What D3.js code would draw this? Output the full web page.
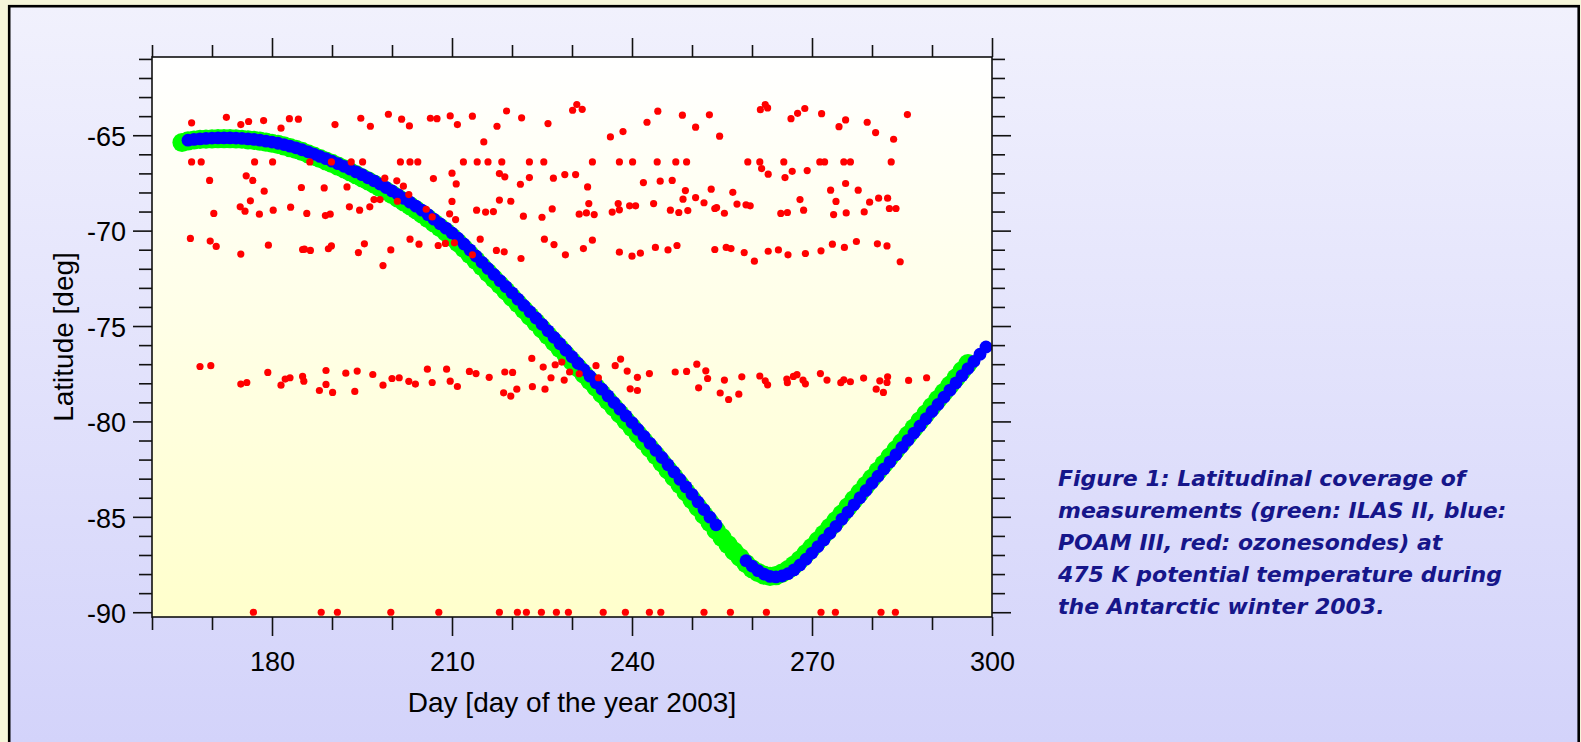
<!DOCTYPE html>
<html>
<head>
<meta charset="utf-8">
<script src="https://cdn.jsdelivr.net/npm/d3@7"></script>
<style>
  body { margin: 0; background: #f6f6da; }
  svg { display: block; }
</style>
</head>
<body>
<div id="chart-area"></div>
<script>
/*
*    Latitudinal coverage of ILAS II / POAM III / ozonesondes, 475 K, 2003
*/

// x axis ticks (day of year) and y axis ticks (latitude)
var xMajor = [180, 210, 240, 270, 300];
var xMinor = [160, 170, 190, 200, 220, 230, 250, 260, 280, 290];
var yMajor = [-90, -85, -80, -75, -70, -65];
var yMinor = [-89, -88, -87, -86, -84, -83, -82, -81, -79, -78, -77, -76,
              -74, -73, -72, -71, -69, -68, -67, -66, -64, -63, -62, -61];

// ILAS II (green) [day, latitude]
var ilas = [
  [165,-65.38],[166,-65.30],[167,-65.25],[168,-65.22],[169,-65.20],[170,-65.19],[171,-65.18],[172,-65.18],
  [173,-65.18],[174,-65.19],[175,-65.21],[176,-65.24],[177,-65.27],[178,-65.31],[179,-65.36],[180,-65.42],
  [181,-65.48],[182,-65.56],[183,-65.65],[184,-65.74],[185,-65.85],[186,-65.97],[187,-66.10],[188,-66.22],
  [189,-66.35],[190,-66.48],[191,-66.62],[192,-66.76],[193,-66.91],[194,-67.07],[195,-67.23],[196,-67.39],
  [197,-67.56],[198,-67.74],[199,-67.92],[200,-68.11],[201,-68.30],[202,-68.50],[203,-68.70],[204,-68.91],
  [205,-69.13],[206,-69.36],[207,-69.60],[208,-69.84],[209,-70.08],[210,-70.34],[211,-70.63],[212,-70.94],
  [213,-71.25],[214,-71.56],[215,-71.88],[216,-72.20],[217,-72.52],[218,-72.84],[219,-73.16],[220,-73.49],
  [221,-73.82],[222,-74.15],[223,-74.48],[224,-74.81],[225,-75.15],[226,-75.49],[227,-75.83],[228,-76.17],
  [229,-76.51],[230,-76.85],[231,-77.19],[232,-77.53],[233,-77.87],[234,-78.21],[235,-78.56],[236,-78.91],
  [237,-79.26],[238,-79.61],[239,-79.96],[240,-80.31],[241,-80.67],[242,-81.04],[243,-81.41],[244,-81.78],
  [245,-82.16],[246,-82.54],[247,-82.92],[248,-83.31],[249,-83.70],[250,-84.10],[251,-84.50],[252,-84.90],
  [253,-85.30],[254,-85.70],[255,-86.08],[256,-86.45],[257,-86.80],[258,-87.12],[259,-87.45],[260,-87.72],
  [261,-87.92],[262,-88.06],[263,-88.12],[264,-88.08],[265,-87.95],[266,-87.77],[267,-87.53],[268,-87.25],
  [269,-86.93],[270,-86.60],[271,-86.25],[272,-85.90],[273,-85.55],[274,-85.20],[275,-84.85],[276,-84.48],
  [277,-84.10],[278,-83.73],[279,-83.35],[280,-82.98],[281,-82.60],[282,-82.23],[283,-81.85],[284,-81.48],
  [285,-81.10],[286,-80.72],[287,-80.35],[288,-79.97],[289,-79.60],[290,-79.22],[291,-78.84],[292,-78.47],
  [293,-78.10],[294,-77.72],[295,-77.34],[296,-76.97]
];

// POAM III (blue) [day, latitude]
var poam = [
  [166,-65.26],[167,-65.22],[168,-65.19],[169,-65.17],[170,-65.15],[171,-65.14],[172,-65.14],[173,-65.14],
  [174,-65.15],[175,-65.17],[176,-65.19],[177,-65.22],[178,-65.26],[179,-65.31],[180,-65.36],[181,-65.42],
  [182,-65.49],[183,-65.57],[184,-65.66],[185,-65.76],[186,-65.87],[187,-65.99],[188,-66.11],[189,-66.23],
  [190,-66.36],[191,-66.49],[192,-66.63],[193,-66.77],[194,-66.92],[195,-67.07],[196,-67.23],[197,-67.39],
  [198,-67.56],[199,-67.74],[200,-67.92],[201,-68.11],[202,-68.31],[203,-68.51],[204,-68.72],[205,-68.93],
  [206,-69.16],[207,-69.40],[208,-69.64],[209,-69.87],[210,-70.12],[211,-70.40],[212,-70.70],[213,-71.01],
  [214,-71.33],[215,-71.66],[216,-71.98],[217,-72.30],[218,-72.62],[219,-72.94],[220,-73.26],[221,-73.59],
  [222,-73.92],[223,-74.25],[224,-74.58],[225,-74.91],[226,-75.25],[227,-75.59],[228,-75.93],[229,-76.27],
  [230,-76.61],[231,-76.95],[232,-77.29],[233,-77.63],[234,-77.97],[235,-78.31],[236,-78.66],[237,-79.01],
  [238,-79.36],[239,-79.71],[240,-80.06],[241,-80.42],[242,-80.78],[243,-81.15],[244,-81.52],[245,-81.89],
  [246,-82.27],[247,-82.65],[248,-83.04],[249,-83.43],[250,-83.82],[251,-84.22],[252,-84.62],[253,-85.02],
  [254,-85.42],
  [259,-87.30],[260,-87.58],[261,-87.82],[262,-88.00],[263,-88.12],[264,-88.15],[265,-88.10],[266,-87.98],
  [267,-87.78],[268,-87.52],[269,-87.22],[270,-86.90],[271,-86.56],[272,-86.21],[273,-85.86],[274,-85.50],
  [275,-85.12],[276,-84.75],[277,-84.37],[278,-84.00],[279,-83.62],[280,-83.24],[281,-82.87],[282,-82.49],
  [283,-82.12],[284,-81.74],[285,-81.36],[286,-80.99],[287,-80.61],[288,-80.24],[289,-79.86],[290,-79.48],
  [291,-79.11],[292,-78.73],[293,-78.36],[294,-77.98],[295,-77.60],[296,-77.23],[297,-76.85],[298,-76.48],
  [299,-76.10]
];

// ozonesondes (red) [day, latitude]
var sondesUpper = [
  [166.6,-64.35],[172.4,-64.06],[174.8,-64.44],[176.1,-64.28],[178.6,-64.23],[181.5,-64.63],[182.9,-64.13],
  [184.4,-64.16],[190.5,-64.44],[194.8,-64.11],[196.4,-64.53],[199.4,-63.90],[201.6,-64.16],[202.9,-64.51],
  [206.4,-64.11],[207.5,-64.13],[209.7,-63.99],[210.9,-64.44],[213.4,-64.00],[215.3,-65.35],[217.5,-64.53],
  [219.1,-63.73],[221.6,-64.09],[226.0,-64.39],[230.1,-63.69],[230.8,-63.39],[231.7,-63.64],
  [236.4,-65.09],[238.5,-64.81],[242.5,-64.32],[244.3,-63.74],[248.4,-63.95],[250.6,-64.58],[252.9,-63.93],
  [254.6,-65.05],[261.4,-63.66],[262.2,-63.39],[262.6,-63.57],[266.5,-64.13],[267.6,-63.85],[268.8,-63.60],
  [271.6,-63.87],[274.5,-64.55],[275.6,-64.20],[279.2,-64.32],[280.6,-64.86],[283.6,-65.21],[285.9,-63.92]
];

var sondesRow66 = [
  [166.6,-66.40],[168.2,-66.40],[177.1,-66.40],[180.1,-66.40],[186.3,-66.40],[189.9,-66.40],[193.2,-66.40],
  [195.1,-66.40],[201.4,-66.40],[203.0,-66.40],[204.3,-66.40],[211.9,-66.40],[214.2,-66.40],[216.0,-66.40],
  [218.3,-66.40],[222.9,-66.40],[225.3,-66.40],[233.4,-66.40],[237.9,-66.40],[240.1,-66.40],[244.2,-66.40],
  [247.3,-66.40],[249.1,-66.40],[259.3,-66.40],[261.3,-66.40],[265.3,-66.40],[271.3,-66.40],[272.1,-66.40],
  [275.3,-66.40],[276.4,-66.40],[283.2,-66.40]
];

var sondesMid = [
  [169.6,-67.37],[175.7,-67.13],[176.8,-67.37],[178.7,-67.93],[170.3,-69.10],[174.7,-68.75],[175.5,-68.98],
  [176.4,-68.44],[177.9,-69.14],[180.2,-68.93],[166.4,-70.41],[169.7,-70.55],[170.7,-70.83],[174.8,-71.23],
  [179.4,-70.76],[184.9,-67.74],[183.1,-68.77],[185.8,-69.10],[188.7,-67.76],[188.9,-69.21],[189.7,-69.14],
  [185.1,-70.99],[185.4,-70.97],[186.4,-71.04],[189.4,-70.95],[189.9,-70.80],[192.5,-67.71],[192.9,-68.75],
  [194.6,-68.93],[196.3,-68.75],[194.4,-71.15],[195.4,-70.69],[197.0,-68.37],[198.0,-68.37],[198.5,-71.83],
  [199.8,-71.01],[198.8,-67.25],[200.8,-67.39],[201.9,-67.67],[202.8,-68.11],[200.9,-68.46],[203.0,-70.45],
  [204.5,-70.71],[205.7,-68.88],[206.7,-69.28],[207.7,-70.78],[208.9,-70.67],[210.4,-70.64],[213.4,-71.27],
  [206.9,-67.27],[210.0,-66.99],[210.7,-67.55],[210.0,-68.47],[209.6,-69.12],[210.6,-69.42],[214.1,-68.93],
  [214.7,-70.45],[215.6,-69.03],[216.9,-69.00],[217.9,-67.01],[218.8,-67.18],[217.9,-68.40],[219.8,-68.46],
  [217.4,-71.04],[218.7,-71.11],[221.4,-67.57],[222.9,-67.22],[221.9,-69.24],[221.5,-71.46],[225.0,-69.30],
  [225.4,-70.45],[226.7,-68.86],[226.9,-67.25],[227.0,-70.73],[228.8,-67.06],[228.9,-71.27],[230.6,-67.06],
  [231.2,-69.14],[232.4,-69.07],[232.6,-67.71],[232.8,-68.58],[231.9,-70.94],
  [261.6,-66.75],[262.7,-67.04],[265.5,-67.22],[266.7,-66.89],[269.2,-66.85],[241.9,-67.48],[244.7,-67.41],
  [246.7,-67.37],[248.9,-67.90],[253.2,-67.83],[256.8,-67.99],[273.1,-67.88],[275.6,-67.53],[277.7,-67.88],
  [233.7,-69.16],[236.7,-69.03],[237.7,-68.58],[237.9,-68.91],[239.6,-68.70],[240.6,-68.70],[243.6,-68.58],
  [246.4,-68.93],[247.8,-69.05],[249.3,-68.95],[248.5,-68.35],[250.6,-68.27],[252.0,-68.54],[253.8,-68.84],
  [254.1,-68.79],[255.4,-69.09],[257.5,-68.61],[259.0,-68.65],[259.7,-68.70],[264.8,-69.10],[265.9,-69.05],
  [268.0,-68.37],[268.6,-68.93],[273.6,-69.16],[274.0,-68.47],[275.7,-69.07],[278.7,-69.02],[279.6,-68.51],
  [281.1,-68.30],[282.6,-68.30],[282.9,-68.84],[284.0,-68.84],
  [233.4,-70.50],[237.9,-71.13],[240.0,-71.34],[241.4,-71.18],[243.9,-70.88],[246.0,-71.01],[247.5,-70.78],
  [253.8,-70.99],[255.7,-70.88],[256.5,-70.94],[258.7,-71.15],[260.4,-71.60],[262.7,-71.08],[264.4,-71.01],
  [266.0,-71.27],[268.9,-71.20],[271.5,-71.06],[273.4,-70.71],[275.4,-70.88],[277.4,-70.57],[280.9,-70.69],
  [282.5,-70.80],[284.7,-71.63]
];

var sondesBand78 = [
  [168.0,-77.12],[169.8,-77.08],[174.8,-78.04],[175.8,-77.96],[179.3,-77.43],[181.5,-78.10],[182.2,-77.78],
  [183.0,-77.71],[185.1,-77.64],[185.3,-77.89],[187.9,-78.38],[189.0,-77.33],[189.0,-78.06],[190.1,-78.48],
  [192.3,-77.47],[193.8,-78.43],[194.2,-77.36],[196.8,-77.54],[198.5,-78.10],[200.0,-77.75],[201.2,-77.71],
  [202.8,-77.90],[203.9,-78.04],[205.9,-77.26],[206.7,-77.96],[209.1,-77.26],[209.7,-77.89],[210.9,-78.17],
  [212.9,-77.38],[214.0,-77.49],[216.2,-77.69],[218.6,-78.50],[218.8,-77.41],[219.8,-78.67],[220.1,-77.43],
  [220.8,-78.31],[223.3,-76.70],[223.4,-78.18],[225.2,-77.15],[225.5,-78.31],[226.5,-77.71],[227.2,-77.03],
  [228.3,-76.89],[228.7,-77.83],[229.6,-77.41],
  [231.2,-77.50],[234.0,-77.08],[234.4,-77.71],[237.2,-77.08],[238.1,-76.73],[239.2,-77.36],[239.7,-78.29],
  [240.9,-77.69],[240.9,-78.38],[242.9,-77.49],[247.2,-77.41],[249.1,-77.38],[250.8,-77.00],[251.1,-78.24],
  [252.3,-77.35],[252.6,-77.75],[254.7,-78.51],[255.4,-77.83],[256.1,-78.85],[257.8,-78.57],[258.3,-77.66],
  [261.3,-77.62],[262.2,-77.87],[262.6,-78.08],[265.8,-77.78],[265.9,-77.97],[266.9,-77.64],[267.5,-77.55],
  [268.5,-77.83],[268.9,-78.03],[271.4,-77.49],[272.5,-77.83],[274.8,-77.97],[275.3,-77.82],[276.4,-77.92],
  [278.6,-77.73],[280.7,-78.31],[281.3,-77.87],[281.9,-78.48],[282.5,-77.96],[282.6,-77.66],[286.1,-77.85],
  [289.1,-77.71]
];

var sondesPole = [
  [176.9,-90],[188.2,-90],[190.9,-90],[199.8,-90],[207.8,-90],[217.9,-90],[220.9,-90],[222.4,-90],
  [224.9,-90],[227.4,-90],[229.4,-90],[235.2,-90],[238.9,-90],[242.9,-90],[244.8,-90],[252.0,-90],
  [256.4,-90],[262.4,-90],[271.5,-90],[273.9,-90],[281.5,-90],[283.9,-90]
];

var captionLines = [
  "Figure 1: Latitudinal coverage of",
  "measurements (green: ILAS II, blue:",
  "POAM III, red: ozonesondes) at",
  "475 K potential temperature during",
  "the Antarctic winter 2003."
];

var sondes = sondesUpper.concat(sondesRow66, sondesMid, sondesBand78, sondesPole);

var width = 1581, height = 742;
var plot = { left: 152, top: 57, right: 992, bottom: 617 };

var svg = d3.select("#chart-area")
    .append("svg")
        .attr("width", width)
        .attr("height", height);

var defs = svg.append("defs");

var panelGrad = defs.append("linearGradient")
    .attr("id", "panelGrad")
    .attr("x1", 0).attr("y1", 0).attr("x2", 0).attr("y2", 1);
panelGrad.append("stop").attr("offset", "0%").attr("stop-color", "#f1f1fd");
panelGrad.append("stop").attr("offset", "100%").attr("stop-color", "#d2d2fa");

var plotGrad = defs.append("linearGradient")
    .attr("id", "plotGrad")
    .attr("x1", 0).attr("y1", 0).attr("x2", 0).attr("y2", 1);
plotGrad.append("stop").attr("offset", "0%").attr("stop-color", "#ffffff");
plotGrad.append("stop").attr("offset", "100%").attr("stop-color", "#ffffcc");

defs.append("clipPath").attr("id", "plotClip")
  .append("rect")
    .attr("x", plot.left).attr("y", plot.top)
    .attr("width", plot.right - plot.left).attr("height", plot.bottom - plot.top);

// background panel
svg.append("rect")
    .attr("x", 0).attr("y", 0)
    .attr("width", width).attr("height", height)
    .attr("fill", "#f6f6da");

svg.append("rect")
    .attr("x", 9.2).attr("y", 6.2)
    .attr("width", 1569.5).attr("height", 760)
    .attr("fill", "url(#panelGrad)")
    .attr("stroke", "#000")
    .attr("stroke-width", 2.6);

var x = d3.scaleLinear()
    .domain([160, 300])
    .range([plot.left, plot.right]);

var y = d3.scaleLinear()
    .domain([-90.25, -60.9])
    .range([plot.bottom, plot.top]);

svg.append("rect")
    .attr("x", plot.left).attr("y", plot.top)
    .attr("width", plot.right - plot.left).attr("height", plot.bottom - plot.top)
    .attr("fill", "url(#plotGrad)");

var marks = svg.append("g").attr("clip-path", "url(#plotClip)");

marks.selectAll(".ilas")
    .data(ilas)
  .enter().append("circle")
    .attr("class", "ilas")
    .attr("cx", function(d){ return x(d[0]); })
    .attr("cy", function(d){ return y(d[1]); })
    .attr("r", 9.6)
    .attr("fill", "#00ff00");

marks.selectAll(".poam")
    .data(poam)
  .enter().append("circle")
    .attr("class", "poam")
    .attr("cx", function(d){ return x(d[0]); })
    .attr("cy", function(d){ return y(d[1]); })
    .attr("r", 6.4)
    .attr("fill", "#0000ff");

marks.selectAll(".sonde")
    .data(sondes)
  .enter().append("circle")
    .attr("class", "sonde")
    .attr("cx", function(d){ return x(d[0]); })
    .attr("cy", function(d){ return y(d[1]); })
    .attr("r", 3.6)
    .attr("fill", "#ff0000");

// frame
svg.append("rect")
    .attr("x", plot.left).attr("y", plot.top)
    .attr("width", plot.right - plot.left).attr("height", plot.bottom - plot.top)
    .attr("fill", "none")
    .attr("stroke", "#111")
    .attr("stroke-width", 1.6);

function drawAxis(axis, tx, ty){
    var g = svg.append("g")
        .attr("transform", "translate(" + tx + "," + ty + ")")
        .call(axis);
    g.select(".domain").remove();
    g.selectAll("line").attr("stroke", "#111").attr("stroke-width", 1.6);
    g.selectAll("text")
        .attr("font-family", "'Liberation Sans', Arial, sans-serif")
        .attr("font-size", 27)
        .attr("fill", "#000");
    return g;
}

// minor ticks on all four sides
drawAxis(d3.axisBottom(x).tickValues(xMinor).tickSize(13).tickFormat(""), 0, plot.bottom);
drawAxis(d3.axisTop(x).tickValues(xMinor).tickSize(12).tickFormat(""), 0, plot.top);
drawAxis(d3.axisLeft(y).tickValues(yMinor).tickSize(13).tickFormat(""), plot.left, 0);
drawAxis(d3.axisRight(y).tickValues(yMinor).tickSize(13).tickFormat(""), plot.right, 0);

// major ticks
var gx = drawAxis(d3.axisBottom(x).tickValues(xMajor).tickSize(19).tickFormat(d3.format("d")), 0, plot.bottom);
gx.selectAll("text").attr("y", 53.5).attr("dy", null);
drawAxis(d3.axisTop(x).tickValues(xMajor).tickSize(19).tickFormat(""), 0, plot.top);
var gy = drawAxis(d3.axisLeft(y).tickValues(yMajor).tickSize(19).tickFormat(function(d){ return String(d); }), plot.left, 0);
gy.selectAll("text").attr("x", -26).attr("dy", "0.38em");
drawAxis(d3.axisRight(y).tickValues(yMajor).tickSize(19).tickFormat(""), plot.right, 0);

// axis titles
svg.append("text")
    .attr("x", (plot.left + plot.right) / 2)
    .attr("y", 712)
    .attr("text-anchor", "middle")
    .attr("font-family", "'Liberation Sans', Arial, sans-serif")
    .attr("font-size", 28)
    .attr("fill", "#000")
    .text("Day [day of the year 2003]");

svg.append("text")
    .attr("transform", "translate(73," + (plot.top + plot.bottom) / 2 + ") rotate(-90)")
    .attr("text-anchor", "middle")
    .attr("font-family", "'Liberation Sans', Arial, sans-serif")
    .attr("font-size", 28)
    .attr("fill", "#000")
    .text("Latitude [deg]");

// caption
svg.append("g").selectAll("text")
    .data(captionLines)
  .enter().append("text")
    .attr("x", 1058)
    .attr("y", function(d, i){ return 485.5 + i * 32; })
    .attr("font-family", "'DejaVu Sans', sans-serif")
    .attr("font-weight", "bold")
    .attr("font-style", "italic")
    .attr("font-size", 22)
    .attr("fill", "#16168a")
    .text(function(d){ return d; });
</script>
</body>
</html>
